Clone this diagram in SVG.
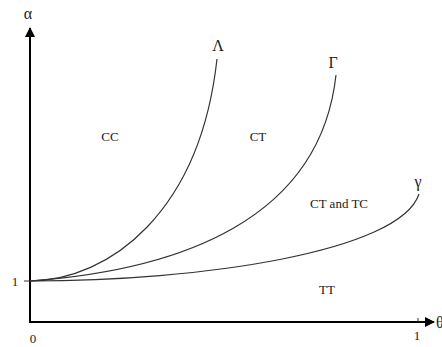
<svg xmlns="http://www.w3.org/2000/svg" width="442" height="347" viewBox="0 0 442 347">
<style>
.t{font-family:"Liberation Serif","Times New Roman",serif;fill:#222}
.s{font-size:13px}
.n{font-size:13px}
.g{font-size:16px}
.ax{stroke:#000;stroke-width:2;fill:none}
.c{stroke:#333;stroke-width:1.2;fill:none}
</style>
<defs>
<marker id="ah" viewBox="0 0 10 10" refX="9" refY="5" markerWidth="5" markerHeight="5" orient="auto" markerUnits="strokeWidth">
<path d="M0,0 L10,5 L0,10 z" fill="#000"/>
</marker>
</defs>
<rect width="442" height="347" fill="#fff"/>
<g id="connectors">
<line class="ax" x1="30" y1="323" x2="30" y2="28" marker-end="url(#ah)"/>
<line class="ax" x1="29" y1="322" x2="434" y2="322" marker-end="url(#ah)"/>
<line stroke="#333" stroke-width="1" x1="24" y1="281" x2="30" y2="281"/>
<line stroke="#333" stroke-width="1" x1="418" y1="318" x2="418" y2="322"/>
<path id="curve-Lambda" class="c" d="M30,281 C110,280 200,212 217,59"/>
<path id="curve-Gamma" class="c" d="M30,281 C180,270 320,220 336,75"/>
<path id="curve-gamma" class="c" d="M30,281 C200,281 400,252 419,194"/>
</g>
<g id="axis-labels">
<text class="t g" x="28" y="19" text-anchor="middle">α</text>
<text class="t n" x="15" y="286" text-anchor="middle">1</text>
<text class="t n" x="33" y="343" text-anchor="middle">0</text>
<text class="t n" x="417" y="340" text-anchor="middle">1</text>
<text class="t g" x="436" y="328">θ</text>
</g>
<g id="curve-labels">
<text class="t g" x="218" y="51" text-anchor="middle">Λ</text>
<text class="t g" x="333" y="68" text-anchor="middle">Γ</text>
<text class="t g" x="418" y="187" text-anchor="middle">γ</text>
</g>
<g id="regions">
<text class="t s" x="110" y="141" text-anchor="middle">CC</text>
<text class="t s" x="258" y="141" text-anchor="middle">CT</text>
<text class="t s" x="339" y="208" text-anchor="middle">CT and TC</text>
<text class="t s" x="327" y="294" text-anchor="middle">TT</text>
</g>
</svg>
